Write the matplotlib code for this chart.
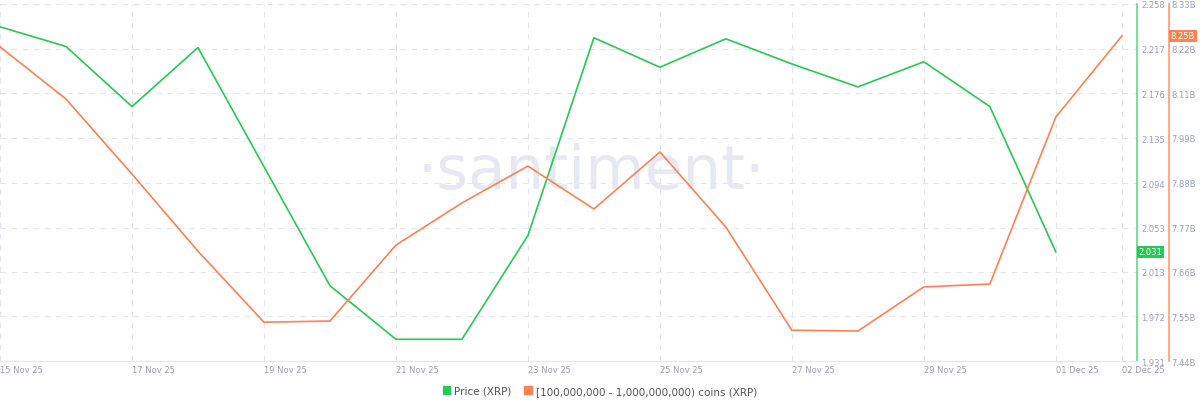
import numpy as np
import matplotlib.pyplot as plt

# daily values, 15 Nov 25 .. 02 Dec 25
days = np.arange(18)
price = [2.237, 2.219, 2.164, 2.218, 2.109, 2.000, 1.951, 1.951, 2.046,
         2.227, 2.200, 2.226, 2.203, 2.182, 2.205, 2.164, 2.031]
holdings = [8.223, 8.093, 7.906, 7.714, 7.537, 7.540, 7.729, 7.834, 7.926,
            7.819, 7.961, 7.774, 7.517, 7.515, 7.625, 7.632, 8.048, 8.250]
date_labels = ['15 Nov 25', '17 Nov 25', '19 Nov 25', '21 Nov 25', '23 Nov 25',
               '25 Nov 25', '27 Nov 25', '29 Nov 25', '01 Dec 25', '02 Dec 25']
date_pos = [0, 2, 4, 6, 8, 10, 12, 14, 16, 17]
price_ticks = [1.931, 1.972, 2.013, 2.053, 2.094, 2.135, 2.176, 2.217, 2.258]
hold_ticks = ['7.44B', '7.55B', '7.66B', '7.77B', '7.88B', '7.99B', '8.11B', '8.22B', '8.33B']

green = '#26c953'
orange = '#ff8150'
tick_col = '#9aa0b8'

fig = plt.figure(figsize=(12, 4.06), dpi=100)
ax = fig.add_axes([0, 0.108, 0.9475, 0.88])
ax.plot(days[:len(price)], price, color=green, lw=1.2)
ax.set_xlim(0, 17.23)
ax.set_ylim(1.931, 2.258)
ax.set_xticks(date_pos)
ax.set_xticklabels(date_labels)
ax.grid(True, color='#e4e6ee', ls=(0, (5, 5)), lw=0.8)
for s in ['top', 'left']:
    ax.spines[s].set_visible(False)
ax.spines['bottom'].set_color('#e4e6ee')

ax2 = ax.twinx()
ax2.plot(days, holdings, color=orange, lw=1.2)
ax2.set_ylim(7.44, 8.33)
ax2.set_yticks(np.linspace(7.44, 8.33, 9))
ax2.set_yticklabels(hold_ticks)
ax2.tick_params(length=0, labelsize=6, colors=tick_col, pad=2)
for s in ['top', 'left', 'bottom']:
    ax2.spines[s].set_visible(False)
ax2.spines['right'].set_position(('axes', 1.028))
ax2.spines['right'].set_color(orange)
ax2.spines['right'].set_linewidth(1.2)
ax2.spines['right'].set_alpha(0.8)

# twinx moves the first axis' ticks to the left, put them back
ax.yaxis.tick_right()
ax.set_yticks(price_ticks)
ax.set_yticklabels([f'{t:.3f}' for t in price_ticks])
ax.tick_params(length=0, labelsize=6, colors=tick_col, pad=3)
for lab in ax.get_xticklabels():
    lab.set_horizontalalignment('left')
ax.spines['right'].set_visible(False)
ax.axvline(17.23, color=green, alpha=0.7, lw=1.2, clip_on=False)

# last value badges
ax.text(1.0015, (price[-1] - 1.931) / 0.327, f'{price[-1]:.3f}', transform=ax.transAxes,
        fontsize=6, color='white', va='center', ha='left',
        bbox=dict(boxstyle='square,pad=0.2', fc=green, ec='none'))
ax2.text(1.0295, (holdings[-1] - 7.44) / 0.89, '8.25B', transform=ax2.transAxes,
         fontsize=6, color='white', va='center', ha='left',
         bbox=dict(boxstyle='square,pad=0.2', fc=orange, ec='none'))

ax.text(0.52, 0.53, '·santiment·', transform=ax.transAxes, fontsize=44,
        color='#e6e8f2', ha='center', va='center', zorder=0)

fig.legend(handles=[plt.Rectangle((0, 0), 1, 1, color=green),
                    plt.Rectangle((0, 0), 1, 1, color=orange)],
           labels=['Price (XRP)', '[100,000,000 - 1,000,000,000) coins (XRP)'],
           loc='lower center', bbox_to_anchor=(0.5, 0.0), ncol=2, frameon=False,
           fontsize=7.5, handlelength=0.7, handleheight=0.7, columnspacing=1.2,
           handletextpad=0.4, labelcolor='#555')

fig.savefig('out.png')
